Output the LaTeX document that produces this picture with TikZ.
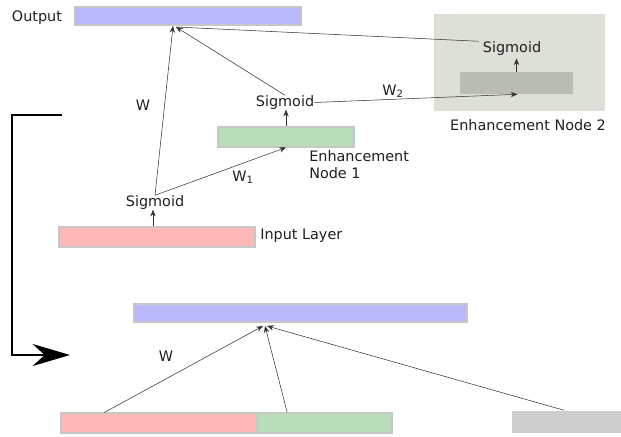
\documentclass[tikz,border=0pt]{standalone}
\usepackage{fontspec}
\setmainfont{DejaVu Sans}
\usetikzlibrary{arrows.meta}
\definecolor{outblue}{HTML}{B8B8FA}
\definecolor{inpink}{HTML}{FFB8B8}
\definecolor{enhgreen}{HTML}{B8DDB8}
\definecolor{boxgray}{HTML}{DCE0D7}
\definecolor{bargray}{HTML}{B9BDB3}
\definecolor{lightgray}{HTML}{CFCFCF}
\tikzset{
	bar/.style={draw=black!22, line width=0.8pt, inner sep=0pt},
	lbl/.style={inner sep=0pt, text=black!88, font=\fontsize{10.8}{13}\selectfont},
	conn/.style={-{Stealth[length=5pt,width=4pt]}, line width=0.4pt, black!80},
	wire/.style={line width=0.4pt, black!80}
}
\begin{document}
\begin{tikzpicture}[x=0.75pt,y=-0.75pt]
	\useasboundingbox (0,0) rectangle (621,436);
	
	%%%%% BEFORE %%%%%
	\node[bar, fill=outblue, minimum width=169.5pt, minimum height=13.5pt] (out) at (188,16) {};
	\node[lbl] (outlbl) at (37,17.5) {Output};
	
	\node[fill=boxgray, minimum width=128.25pt, minimum height=72.75pt, inner sep=0pt] (enh2box) at (519.5,62.5) {};
	\node[fill=bargray, minimum width=84.75pt, minimum height=16.5pt, inner sep=0pt] (enh2) at (516.5,83) {};
	\node[lbl] (sig3) at (512,48.5) {Sigmoid};
	\node[lbl] (enh2lbl) at (528,125) {Enhancement Node 2};
	
	\node[bar, fill=enhgreen, minimum width=102pt, minimum height=15pt] (enh1) at (286,137) {};
	\node[lbl] (sig2) at (285,102.5) {Sigmoid};
	\node[lbl, align=left, anchor=north west] (enh1lbl) at (309,150) {Enhancement\\Node 1};
	
	\node[bar, fill=inpink, minimum width=147pt, minimum height=15pt] (inp) at (157,237) {};
	\node[lbl] (sig1) at (155,202.5) {Sigmoid};
	\node[lbl, anchor=west] (inplbl) at (260,236) {Input Layer};
	
	\coordinate (outtip) at (173,26);
	\draw[conn] (inp.north -| 153,0) -- (sig1.south -| 153,0);
	\draw[conn] (sig1.north) -- (outtip);
	\draw[conn] (sig1.north) -- (enh1.south);
	\draw[conn] (enh1.north) -- (enh1.north |- sig2.south);
	\draw[conn] (sig2.north) -- (176,27);
	\draw[conn] (sig2.east) -- ([xshift=0.75pt]enh2.south);
	\draw[conn] (enh2.north) -- ([yshift=-2pt]enh2.north |- sig3.south);
	\draw[wire] ([xshift=-3pt]sig3.north west) -- (176,27);
	
	\node[lbl] (w) at (143,105) {W};
	\node[lbl] (w1) at (243,177) {W\textsubscript{1}};
	\node[lbl] (w2) at (393,91) {W\textsubscript{2}};
	
	%%%%% TRANSITION %%%%%
	\coordinate (bendtop) at (62,115);
	\coordinate (bendtip) at (70,355);
	\draw[line width=1.5pt, -{Stealth[length=28pt,width=16.5pt,inset=9pt]}] (bendtop) -- (12,115) -- (12,355) -- (bendtip);
	
	%%%%% AFTER %%%%%
	\node[bar, fill=outblue, minimum width=249.75pt, minimum height=13.5pt] (out2) at (300.5,313) {};
	\node[bar, fill=inpink, minimum width=147pt, minimum height=15pt] (inp2) at (159,423) {};
	\node[bar, fill=enhgreen, minimum width=101.25pt, minimum height=15pt] (enh12) at (324.5,423) {};
	\node[fill=lightgray, minimum width=82.5pt, minimum height=16.5pt, inner sep=0pt] (enh22) at (567,421.5) {};
	\node[lbl] (wb) at (166,356) {W};
	
	\draw[conn] ([xshift=-41pt]inp2.north) -- (263,326);
	\draw[conn] ([xshift=-28pt]enh12.north) -- (265,326);
	\draw[conn] ([xshift=-2.25pt]enh22.north) -- (267,326);
\end{tikzpicture}
\end{document}
